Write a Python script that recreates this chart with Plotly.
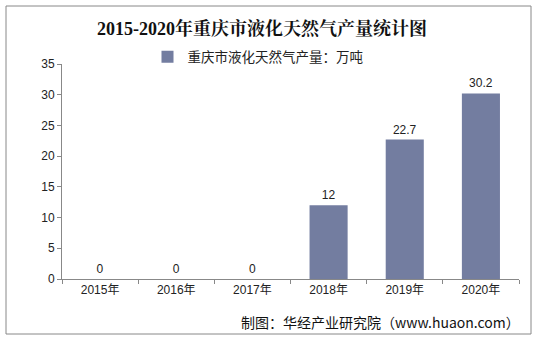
import plotly.graph_objects as go

years = ["2015年", "2016年", "2017年", "2018年", "2019年", "2020年"]
values = [0, 0, 0, 12, 22.7, 30.2]
labels = ["0", "0", "0", "12", "22.7", "30.2"]
series_name = "重庆市液化天然气产量：万吨"
title_text = "2015-2020年重庆市液化天然气产量统计图"
caption = "制图：华经产业研究院（www.huaon.com）"

W, H = 539, 341
L, R, T, B = 62, 20, 64, 62
pw, ph = W - L - R, H - T - B

def px(x):
    return (x - L) / pw

def py(y):
    return (H - B - y) / ph

fig = go.Figure()
fig.add_trace(go.Bar(
    x=years, y=values, name=series_name,
    marker=dict(color="#737DA0", line=dict(width=0)),
    width=0.5,
    text=labels, textposition="outside", cliponaxis=False,
    textfont=dict(family="Arial, Liberation Sans, sans-serif", size=12, color="#222"),
    showlegend=True,
))

fig.update_layout(
    width=W, height=H,
    margin=dict(l=L, r=R, t=T, b=B),
    paper_bgcolor="white", plot_bgcolor="white",
    showlegend=True,
    legend=dict(orientation="h", x=px(258), xanchor="center", y=py(57), yanchor="middle",
                font=dict(family="Noto Sans CJK SC, sans-serif", size=13.5, color="#222"),
                itemwidth=30, bgcolor="rgba(0,0,0,0)"),
    font=dict(family="Arial, Liberation Sans, Noto Sans CJK SC, sans-serif", color="#222"),
    bargap=0.5,
)

fig.update_xaxes(
    type="category", showline=True, linecolor="#888", linewidth=1,
    ticks="outside", tickson="boundaries", ticklen=4, tickcolor="#888",
    showgrid=False, tickfont=dict(size=12, color="#222",
                                  family="Arial, Liberation Sans, Noto Sans CJK SC, sans-serif"),
)
fig.update_yaxes(
    range=[0, 35], dtick=5, showline=True, linecolor="#888", linewidth=1,
    ticks="outside", ticklen=4, tickcolor="#888", showgrid=False, zeroline=False,
    tickfont=dict(size=12, color="#222", family="Arial, Liberation Sans, sans-serif"),
)

fig.add_annotation(
    text="<b>" + title_text + "</b>", xref="paper", yref="paper",
    x=px(262), y=py(29), xanchor="center", yanchor="middle", showarrow=False,
    font=dict(family="Liberation Serif, Noto Serif CJK SC, Noto Sans CJK SC, serif", size=18, color="#111"),
)
fig.add_annotation(
    text=caption, xref="paper", yref="paper",
    x=px(522), y=py(322), xanchor="right", yanchor="middle", showarrow=False,
    font=dict(family="Noto Sans CJK SC, sans-serif", size=14, color="#111"),
)

fig.add_shape(type="rect", xref="paper", yref="paper",
              x0=px(6), x1=px(531), y0=py(334), y1=py(6),
              line=dict(color="#888", width=1), fillcolor="rgba(0,0,0,0)", layer="below")

fig.write_html("out.html")
